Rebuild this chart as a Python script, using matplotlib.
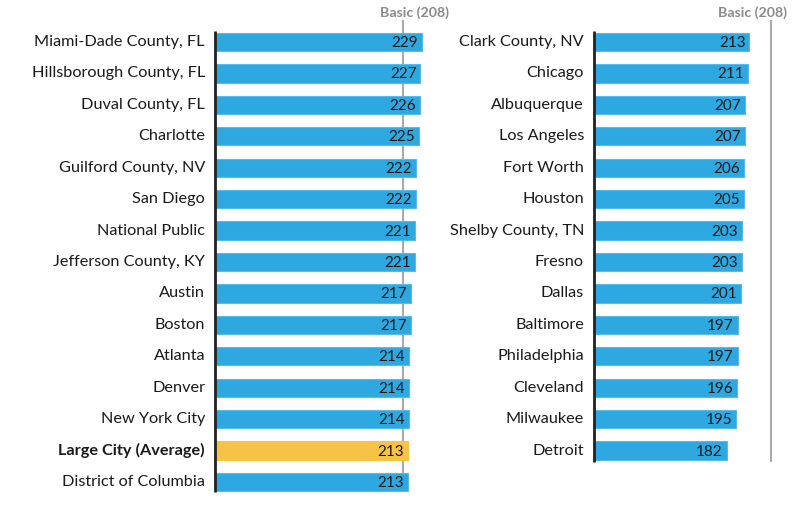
import matplotlib
matplotlib.use("Agg")
import matplotlib.pyplot as plt
from matplotlib.transforms import blended_transform_factory

plt.rcParams['font.family'] = ['Lato', 'DejaVu Sans']

left_names = ["Miami-Dade County, FL", "Hillsborough County, FL", "Duval County, FL",
              "Charlotte", "Guilford County, NV", "San Diego", "National Public",
              "Jefferson County, KY", "Austin", "Boston", "Atlanta", "Denver",
              "New York City", "Large City (Average)", "District of Columbia"]
left_values = [229, 227, 226, 225, 222, 222, 221, 221, 217, 217, 214, 214, 214, 213, 213]

right_names = ["Clark County, NV", "Chicago", "Albuquerque", "Los Angeles", "Fort Worth",
               "Houston", "Shelby County, TN", "Fresno", "Dallas", "Baltimore",
               "Philadelphia", "Cleveland", "Milwaukee", "Detroit"]
right_values = [213, 211, 207, 207, 206, 205, 203, 203, 201, 197, 197, 196, 195, 182]

highlight = "Large City (Average)"
basic_value = 208
basic_label = "Basic (208)"

BLUE = "#2DA8E1"
EDGE = "#55BBEA"
YELLOW = "#F6C344"
GRAY = "#AAAAAA"
TEXT = "#1A1A1A"

W, H = 800, 505
fig = plt.figure(figsize=(W / 100, H / 100), dpi=100)

row_px = 31.43


def make_panel(x0, width_px, px_per_unit, names, values, bottom_px, line_frac, label_cx):
    top_px = 20
    ax = fig.add_axes([x0 / W, 1 - bottom_px / H, width_px / W, (bottom_px - top_px) / H])
    n = len(names)
    ytop = -(42 - top_px) / row_px
    ylast_center_px = 42 + (n - 1) * row_px
    ybot = (n - 1) + (bottom_px - ylast_center_px) / row_px
    ax.set_ylim(ybot, ytop)
    ax.set_xlim(0, width_px / px_per_unit)
    for s in ax.spines.values():
        s.set_visible(False)
    ax.set_xticks([])
    ax.set_yticks([])
    ax.patch.set_alpha(0)

    ys = list(range(n))
    colors = [YELLOW if nm == highlight else BLUE for nm in names]
    edges = [YELLOW if nm == highlight else EDGE for nm in names]
    ax.barh(ys, values, height=0.58, color=colors, edgecolor=edges, linewidth=0.8, zorder=2)

    # basic line (behind bars)
    tr = blended_transform_factory(ax.transAxes, ax.transData)
    ax.plot([line_frac, line_frac], [ytop, ybot], transform=tr, color=GRAY, lw=1.5, zorder=1,
            solid_capstyle='butt')
    ax.text(label_cx, 1.0 + 7 / (bottom_px - top_px), basic_label, transform=ax.transAxes,
            ha='center', va='center', fontsize=10.2, color="#8A8A8A", fontweight='bold')

    # axis line
    ax.plot([0, 0], [-(42 - 31) / row_px, ybot], color="#222222", lw=2, zorder=4,
            solid_capstyle='butt', clip_on=False)

    px = width_px / px_per_unit / width_px
    for y, nm, v in zip(ys, names, values):
        ax.text(v - 4 * px, y + 0.03, str(v), ha='right', va='center', fontsize=11,
                color=TEXT, zorder=5)
        ax.text(-10 * px, y, nm, ha='right', va='center', fontsize=11.7, color=TEXT,
                fontweight='bold' if nm == highlight else 'normal')
    return ax


# left panel: 0.905 px per point
lw_px = 215
make_panel(215, lw_px, 0.905, left_names, left_values, 492,
           (basic_value * 0.905) / lw_px, (414 - 215) / lw_px)
# right panel: 0.73 px per point, reference rule drawn at x=771 as in source
rw_px = 200
make_panel(594, rw_px, 0.73, right_names, right_values, 462,
           (771 - 594) / rw_px, (752 - 594) / rw_px)

fig.savefig("out.png", dpi=100)
